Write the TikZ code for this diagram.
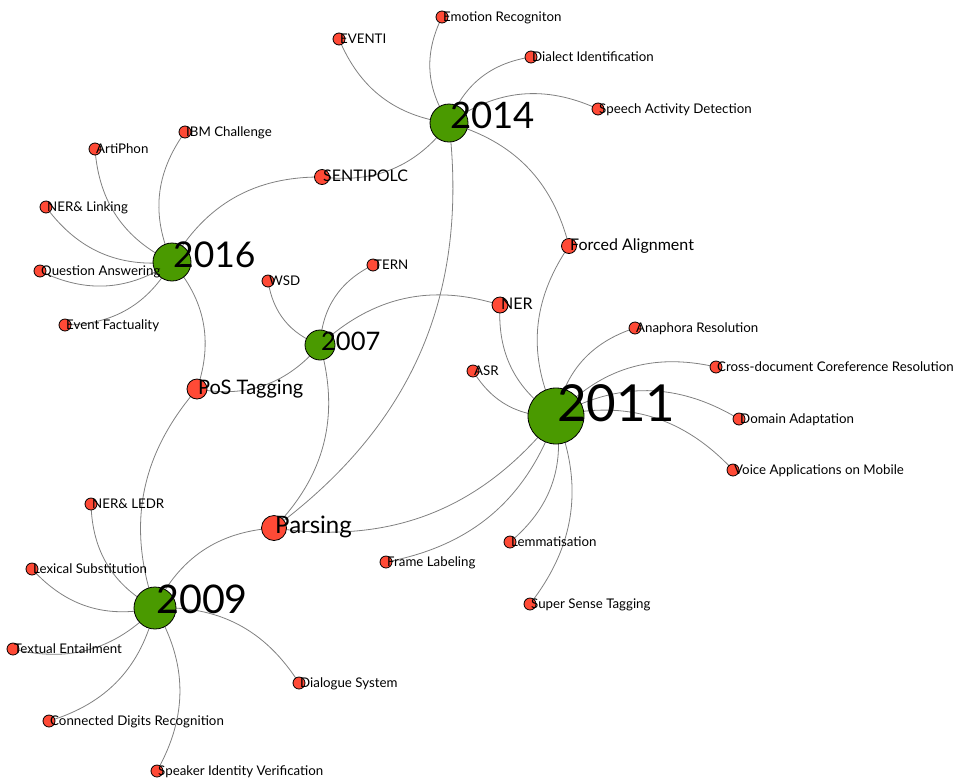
\documentclass[tikz,border=0pt]{standalone}
\usepackage{fontspec}
\setmainfont{Lato}
\usetikzlibrary{backgrounds}
\definecolor{yeargreen}{HTML}{4A9A00}
\definecolor{taskred}{HTML}{FF4A36}
\begin{document}
\begin{tikzpicture}[x=1pt, y=1pt,
    year/.style={draw, circle, fill=yeargreen, inner sep=0pt, line width=0.8pt},
    task/.style={draw, circle, fill=taskred, inner sep=0pt, line width=0.8pt},
    tag/.style={anchor=base west, inner sep=0pt, xshift=1pt, yshift=-0.42em},
    bigtag/.style={anchor=base west, inner sep=0pt, xshift=1pt, yshift=-0.58em},
    small/.style={tag, font=\fontsize{13.3}{15}\selectfont},
    link/.style={draw=black!50, line width=0.8pt, bend left=30}]
    \useasboundingbox (0,0) rectangle (961,-780);

    % Define the year nodes
    \node[year, minimum size=38pt] (y2014) at (449,-123) {};
    \node[year, minimum size=38pt] (y2016) at (172,-262) {};
    \node[year, minimum size=30pt] (y2007) at (320,-345) {};
    \node[year, minimum size=56pt] (y2011) at (556,-416) {};
    \node[year, minimum size=42pt] (y2009) at (155,-608) {};

    % Define the task nodes
    \node[task, minimum size=12pt] (eventi) at (339,-39) {};
    \node[task, minimum size=12pt] (emotion) at (442,-17) {};
    \node[task, minimum size=12pt] (dialect) at (531,-57) {};
    \node[task, minimum size=12pt] (speech) at (598,-109) {};
    \node[task, minimum size=15pt] (sentipolc) at (322,-177) {};
    \node[task, minimum size=12pt] (ibm) at (185,-132) {};
    \node[task, minimum size=12pt] (artiphon) at (95,-149) {};
    \node[task, minimum size=12pt] (nerlink) at (46,-207) {};
    \node[task, minimum size=12pt] (qa) at (40,-271) {};
    \node[task, minimum size=12pt] (factuality) at (65,-325) {};
    \node[task, minimum size=12pt] (wsd) at (268,-281) {};
    \node[task, minimum size=12pt] (tern) at (373,-265) {};
    \node[task, minimum size=16pt] (ner) at (500,-305) {};
    \node[task, minimum size=15pt] (forced) at (569,-246) {};
    \node[task, minimum size=20pt] (pos) at (197,-389) {};
    \node[task, minimum size=12pt] (asr) at (473,-371) {};
    \node[task, minimum size=12pt] (anaphora) at (635,-328) {};
    \node[task, minimum size=12pt] (crossdoc) at (716,-367) {};
    \node[task, minimum size=12pt] (domain) at (739,-419) {};
    \node[task, minimum size=12pt] (voice) at (733,-470) {};
    \node[task, minimum size=25pt] (parsing) at (274,-528) {};
    \node[task, minimum size=12pt] (frame) at (386,-562) {};
    \node[task, minimum size=12pt] (lemma) at (510,-542) {};
    \node[task, minimum size=12pt] (supersense) at (530,-604) {};
    \node[task, minimum size=12pt] (nerledr) at (91,-504) {};
    \node[task, minimum size=12pt] (lexsub) at (32,-569) {};
    \node[task, minimum size=12pt] (entail) at (13,-649) {};
    \node[task, minimum size=12pt] (dialogue) at (299,-683) {};
    \node[task, minimum size=12pt] (digits) at (49,-721) {};
    \node[task, minimum size=12pt] (speaker) at (157,-771) {};

    % Labels
    \node[bigtag, font=\fontsize{36.5}{40}\selectfont] (y2014txt) at (y2014.center) {2014};
    \node[bigtag, font=\fontsize{35.5}{40}\selectfont] (y2016txt) at (y2016.center) {2016};
    \node[bigtag, font=\fontsize{25.5}{30}\selectfont] (y2007txt) at (y2007.center) {2007};
    \node[bigtag, font=\fontsize{51}{56}\selectfont] (y2011txt) at (y2011.center) {2011};
    \node[bigtag, font=\fontsize{39.5}{44}\selectfont] (y2009txt) at (y2009.center) {2009};
    \node[small] (eventitxt) at (eventi.center) {EVENTI};
    \node[small] (emotiontxt) at (emotion.center) {Emotion Recogniton};
    \node[small] (dialecttxt) at (dialect.center) {Dialect Identification};
    \node[small] (speechtxt) at (speech.center) {Speech Activity Detection};
    \node[tag, font=\fontsize{16}{19}\selectfont] (sentipolctxt) at (sentipolc.center) {SENTIPOLC};
    \node[small] (ibmtxt) at (ibm.center) {IBM Challenge};
    \node[small] (artiphontxt) at (artiphon.center) {ArtiPhon};
    \node[small] (nerlinktxt) at (nerlink.center) {NER\& Linking};
    \node[small] (qatxt) at (qa.center) {Question Answering};
    \node[small] (factualitytxt) at (factuality.center) {Event Factuality};
    \node[small] (wsdtxt) at (wsd.center) {WSD};
    \node[small] (terntxt) at (tern.center) {TERN};
    \node[tag, font=\fontsize{16}{19}\selectfont] (nertxt) at (ner.center) {NER};
    \node[tag, font=\fontsize{16}{19}\selectfont] (forcedtxt) at (forced.center) {Forced Alignment};
    \node[bigtag, font=\fontsize{20}{24}\selectfont] (postxt) at (pos.center) {PoS Tagging};
    \node[small] (asrtxt) at (asr.center) {ASR};
    \node[small] (anaphoratxt) at (anaphora.center) {Anaphora Resolution};
    \node[small] (crossdoctxt) at (crossdoc.center) {Cross-document Coreference Resolution};
    \node[small] (domaintxt) at (domain.center) {Domain Adaptation};
    \node[small] (voicetxt) at (voice.center) {Voice Applications on Mobile};
    \node[bigtag, font=\fontsize{24}{28}\selectfont] (parsingtxt) at (parsing.center) {Parsing};
    \node[small] (frametxt) at (frame.center) {Frame Labeling};
    \node[small] (lemmatxt) at (lemma.center) {Lemmatisation};
    \node[small] (supersensetxt) at (supersense.center) {Super Sense Tagging};
    \node[small] (nerledrtxt) at (nerledr.center) {NER\& LEDR};
    \node[small] (lexsubtxt) at (lexsub.center) {Lexical Substitution};
    \node[small] (entailtxt) at (entail.center) {Textual Entailment};
    \node[small] (dialoguetxt) at (dialogue.center) {Dialogue System};
    \node[small] (digitstxt) at (digits.center) {Connected Digits Recognition};
    \node[small] (speakertxt) at (speaker.center) {Speaker Identity Verification};

    % Draw the links behind the nodes
    \begin{scope}[on background layer]
    \foreach \a/\b in {y2014/eventi, y2014/emotion, y2014/dialect, y2014/speech,
        y2014/sentipolc, y2014/forced, y2014/parsing,
        y2016/ibm, y2016/artiphon, y2016/nerlink, y2016/qa, y2016/factuality,
        y2016/sentipolc, y2016/pos,
        y2007/wsd, y2007/tern, y2007/ner, y2007/pos, y2007/parsing,
        y2011/ner, y2011/forced, y2011/asr, y2011/anaphora, y2011/crossdoc,
        y2011/domain, y2011/voice, y2011/parsing, y2011/frame, y2011/lemma,
        y2011/supersense,
        y2009/nerledr, y2009/lexsub, y2009/entail, y2009/dialogue, y2009/digits,
        y2009/speaker, y2009/parsing, y2009/pos}
        \draw[link] (\a.center) to (\b.center);
    \end{scope}
\end{tikzpicture}
\end{document}
